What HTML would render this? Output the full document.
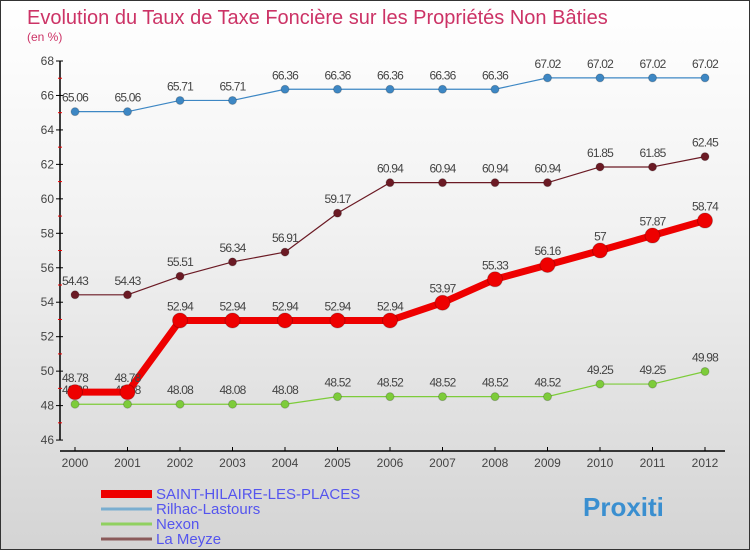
<!DOCTYPE html>
<html><head><meta charset="utf-8"><style>
body{margin:0;width:750px;height:550px;overflow:hidden;font-family:"Liberation Sans",sans-serif}
#wrap{position:relative;width:748px;height:548px;border:1px solid #333;background:linear-gradient(#ffffff,#f2f2f2 40%,#d4d4d4)}
</style></head><body>
<div id="wrap">
<svg id="chart" width="748" height="548"></svg>
</div>
<script>
const years=["2000","2001","2002","2003","2004","2005","2006","2007","2008","2009","2010","2011","2012"];
const saint=[48.78,48.78,52.94,52.94,52.94,52.94,52.94,53.97,55.33,56.16,57,57.87,58.74];
const rilhac=[65.06,65.06,65.71,65.71,66.36,66.36,66.36,66.36,66.36,67.02,67.02,67.02,67.02];
const nexon=[48.08,48.08,48.08,48.08,48.08,48.52,48.52,48.52,48.52,48.52,49.25,49.25,49.98];
const meyze=[54.43,54.43,55.51,56.34,56.91,59.17,60.94,60.94,60.94,60.94,61.85,61.85,62.45];
const yTicks=[46,48,50,52,54,56,58,60,62,64,66,68];
const NS="http://www.w3.org/2000/svg";
const svg=document.getElementById('chart');
const X=i=>74+52.5*i;
const Y=v=>60+(68-v)*17.23;
function el(t,a,txt){const e=document.createElementNS(NS,t);for(const k in a)e.setAttribute(k,a[k]);if(txt!==undefined)e.textContent=txt;svg.appendChild(e);return e;}
let e;
e=el('text',{x:26,y:23,'font-size':20,fill:'#cc3366'},'Evolution du Taux de Taxe Foncière sur les Propriétés Non Bâties');


e=el('text',{x:26,y:40,'font-size':12,fill:'#cc3366'},'(en %)');


e=el('line',{x1:59,y1:Y(68),x2:59,y2:Y(46),stroke:'#000','stroke-width':1.5});


e=el('line',{x1:59,y1:450,x2:X(12)+20,y2:450,stroke:'#000','stroke-width':1.5});


yTicks.forEach(v=>{
 e=el('line',{x1:55,y1:Y(v),x2:62,y2:Y(v),stroke:'#000'});
 
 
 if(v<68){e=el('line',{x1:57,y1:Y(v+1),x2:61,y2:Y(v+1),stroke:'#e00'});
 
 }
 e=el('text',{x:53,y:Y(v)+4,'font-size':12,fill:'#444','text-anchor':'end'},String(v));
 
 
});
years.forEach((yr,i)=>{
 e=el('line',{x1:X(i),y1:446,x2:X(i),y2:450,stroke:'#000'});
 
 
 e=el('text',{x:X(i),y:466,'font-size':12,fill:'#444','text-anchor':'middle'},yr);
 
 
});
function series(vals,color,w,r,name){
 e=el('polyline',{points:vals.map((v,i)=>X(i)+','+Y(v)).join(' '),fill:'none',stroke:color,'stroke-width':w,'stroke-linejoin':'round'});
 
 
 vals.forEach((v,i)=>{
  e=el('circle',{cx:X(i),cy:Y(v),r:r,fill:color,stroke:'#0003'});
  
  
  e=el('text',{x:X(i),y:Y(v)-10,'font-size':12,fill:'#444','text-anchor':'middle','letter-spacing':'-0.8'},String(v));
  
  
 });
}
series(rilhac,'#3d87c4',1.2,4,'rilhac');
series(meyze,'#6b1a24',1.2,4,'la-meyze');
series(nexon,'#7dcc3a',1.2,4,'nexon');
series(saint,'#ee0000',7,7.5,'saint-hilaire');
const legend=[["SAINT-HILAIRE-LES-PLACES","#ee0000",8],["Rilhac-Lastours","#7aaed0",3],["Nexon","#90d060",3],["La Meyze","#8a5a5a",3]];
legend.forEach((l,i)=>{
 const y=493+i*15;
 e=el('line',{x1:100,y1:y,x2:151,y2:y,stroke:l[1],'stroke-width':l[2]});
 
 
 e=el('text',{x:155,y:y+5,'font-size':15,fill:'#5555ee'},l[0]);
 
 
});
e=el('text',{x:582,y:515,'font-size':26,'font-weight':'bold',fill:'#3a8fd0'},'Proxiti');


</script>
</body></html>
